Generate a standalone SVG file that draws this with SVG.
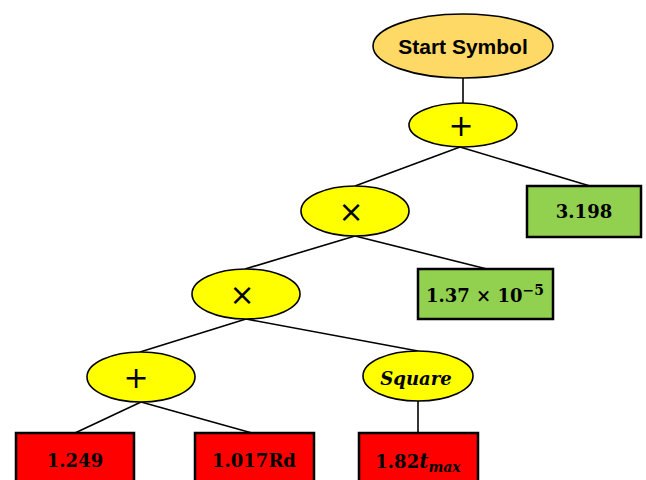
<svg xmlns="http://www.w3.org/2000/svg" width="646" height="480" viewBox="0 0 646 480">
<style>
.conn line{stroke:#000;stroke-width:1.6}
.op{fill:#FFFF00;stroke:#000;stroke-width:1.6}
.start{fill:#FFD966;stroke:#000;stroke-width:1.6}
.green{fill:#92D050;stroke:#000;stroke-width:2.5}
.red{fill:#FF0000;stroke:#000;stroke-width:2.5}
.sym{font-family:"DejaVu Sans",sans-serif;font-size:30px;text-anchor:middle;fill:#000}
.math{font-family:"DejaVu Serif","Liberation Serif",serif;font-weight:bold;font-size:18px;text-anchor:middle;fill:#000}
.title{font-family:"Liberation Sans",Arial,sans-serif;font-weight:bold;font-size:21px;text-anchor:middle;fill:#000}
</style>
<g id="connectors" class="conn">
<line x1="463" y1="78" x2="463" y2="104"/>
<line x1="460" y1="147" x2="355" y2="186"/>
<line x1="460" y1="147" x2="590" y2="186"/>
<line x1="355" y1="236" x2="245" y2="269"/>
<line x1="355" y1="236" x2="487" y2="269"/>
<line x1="246" y1="319" x2="140" y2="352"/>
<line x1="246" y1="319" x2="418" y2="351"/>
<line x1="141" y1="402" x2="75" y2="433"/>
<line x1="141" y1="402" x2="252" y2="433"/>
<line x1="418" y1="401" x2="418" y2="433"/>
</g>
<g id="start">
<ellipse class="start" cx="463" cy="46" rx="90" ry="32"/>
<text class="title" x="463" y="54">Start Symbol</text>
</g>
<g id="plus1">
<ellipse class="op" cx="463" cy="125" rx="54" ry="22"/>
<text class="sym" x="461" y="136">+</text>
</g>
<g id="c3198">
<rect class="green" x="527" y="186" width="114" height="51"/>
<text class="math" x="584" y="218">3.198</text>
</g>
<g id="times1">
<ellipse class="op" cx="355" cy="211" rx="54" ry="25"/>
<text class="sym" x="351" y="222">×</text>
</g>
<g id="c137">
<rect class="green" x="418" y="269" width="135" height="50"/>
<text class="math" x="485" y="302">1.37 × 10<tspan dy="-7" font-size="14">−5</tspan></text>
</g>
<g id="times2">
<ellipse class="op" cx="246" cy="294" rx="54" ry="25"/>
<text class="sym" x="242" y="305">×</text>
</g>
<g id="plus2">
<ellipse class="op" cx="141" cy="377" rx="54" ry="25"/>
<text class="sym" x="136" y="388">+</text>
</g>
<g id="square">
<ellipse class="op" cx="418" cy="376" rx="55" ry="25"/>
<text class="math" x="416" y="385" font-style="italic" font-size="17">Square</text>
</g>
<g id="c1249">
<rect class="red" x="16" y="433" width="118" height="55"/>
<text class="math" x="75" y="467">1.249</text>
</g>
<g id="c1017">
<rect class="red" x="195" y="433" width="119" height="55"/>
<text class="math" x="254" y="467">1.017Rd</text>
</g>
<g id="c182">
<rect class="red" x="359" y="433" width="119" height="55"/>
<text class="math" x="418" y="468">1.82<tspan font-style="italic" font-size="20">t</tspan><tspan font-style="italic" font-size="14" dy="4">max</tspan></text>
</g>
</svg>
